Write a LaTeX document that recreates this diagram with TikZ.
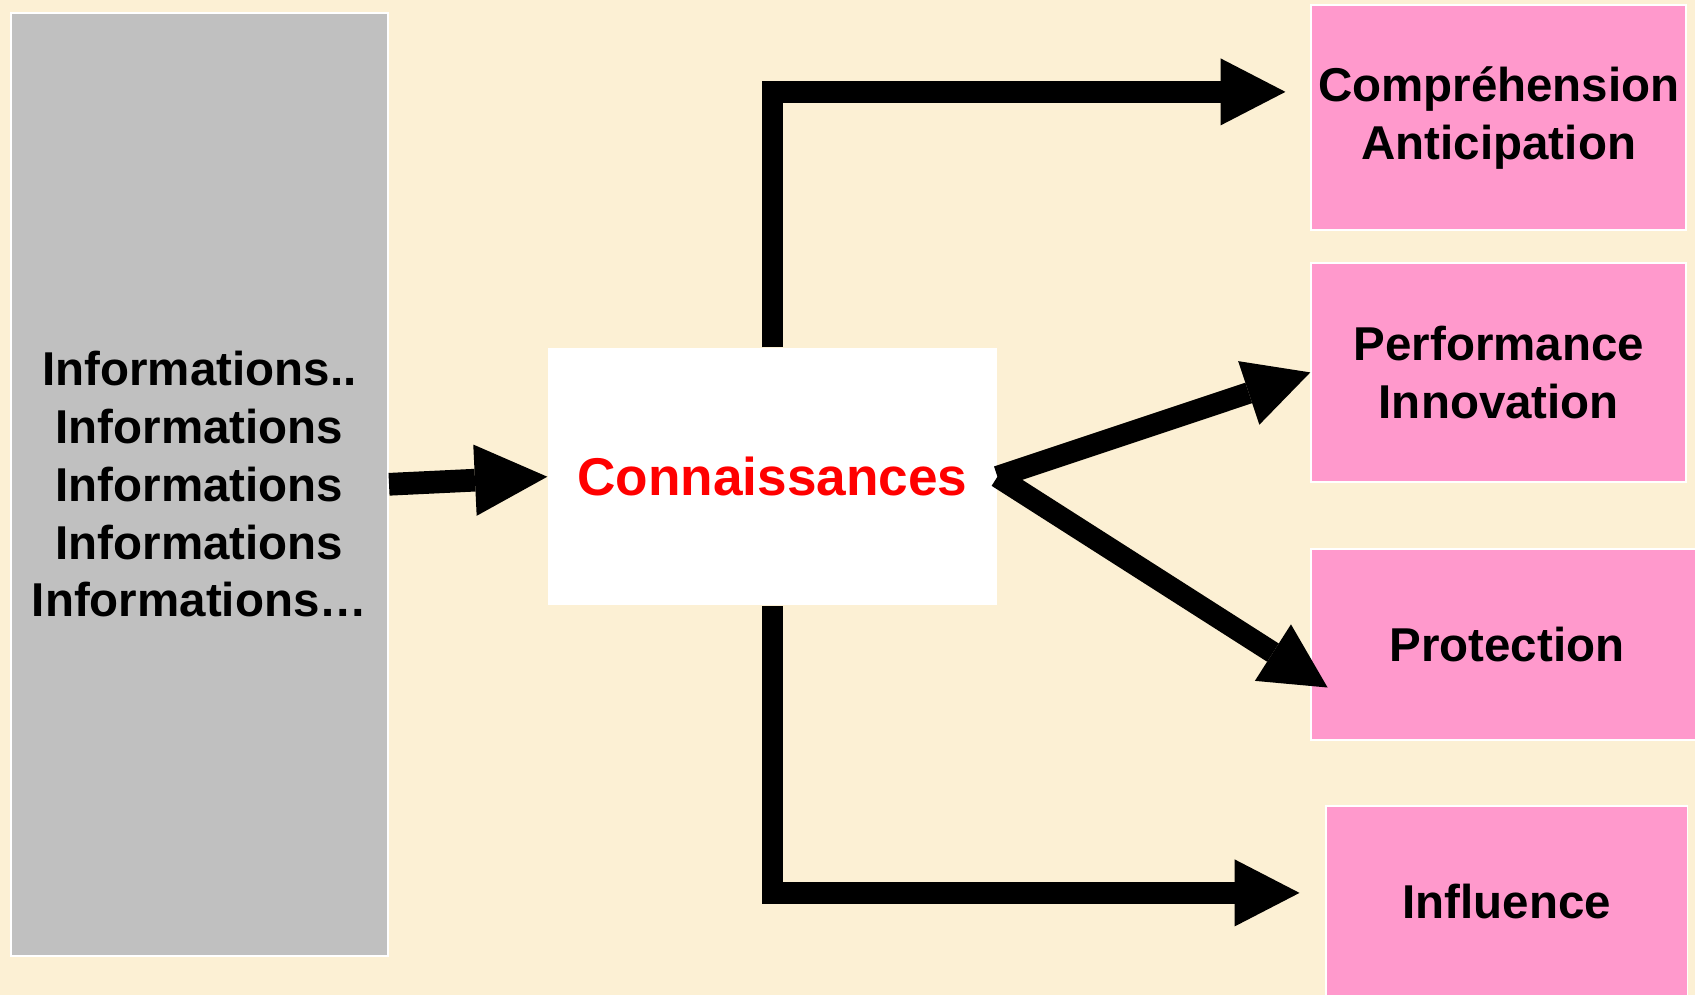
\documentclass[tikz,border=0pt]{standalone}
\usepackage{fontspec}
\setmainfont{Liberation Sans}
\usetikzlibrary{arrows.meta,positioning}
\definecolor{parchment}{RGB}{252,240,212}
\definecolor{boxgray}{RGB}{192,192,192}
\definecolor{boxpink}{RGB}{255,153,204}
\tikzstyle{pinkbox} = [draw=white, line width=0.5pt, fill=boxpink, inner sep=1pt, align=center, font=\bfseries\fontsize{12.5}{15.2}\selectfont]
\tikzstyle{bigarrow} = [line width=0.2cm, -{Triangle[length=0.6cm,width=0.62cm,line width=0pt]}]

\begin{document}
\begin{tikzpicture}
	\fill[parchment] (0,0) rectangle (15.68,9.20); % background
	\useasboundingbox (0,0) rectangle (15.68,9.20);
	\node[draw=white,line width=0.5pt,fill=boxgray,minimum width=3.49cm,minimum height=8.72cm,align=center,font=\bfseries\fontsize{12.5}{15.2}\selectfont] (infoBox) at (1.845,4.72) {Informations..\\Informations\\Informations\\Informations\\Informations…};
	\node[fill=white,minimum width=4.15cm,minimum height=2.38cm,text=red,font=\bfseries\fontsize{14}{16}\selectfont] (knowBox) at (7.145,4.79) {Connaissances};
	\node[pinkbox,minimum width=3.47cm,minimum height=2.08cm] (compBox) at (13.865,8.11) {Compréhension\\Anticipation};
	\node[pinkbox,minimum width=3.47cm,minimum height=2.03cm] (perfBox) at (13.865,5.755) {Performance\\Innovation};
	\node[pinkbox,minimum width=3.62cm,minimum height=1.765cm] (protBox) at (13.94,3.24) {Protection};
	\node[pinkbox,minimum width=3.34cm,minimum height=1.76cm] (inflBox) at (13.94,0.86) {Influence};
	\draw[bigarrow,line width=0.21cm,-{Triangle[length=0.67cm,width=0.66cm,line width=0pt]}] (infoBox.east) -- (knowBox.west);
	\draw[bigarrow] (knowBox.north) |- ([shift={(-0.23,0.24)}]compBox.west);
	\draw[bigarrow] (knowBox.south) |- ([shift={(-0.24,0.08)}]inflBox.west);
	\draw[bigarrow] (knowBox.east) -- (perfBox.west);
	\draw[bigarrow] (knowBox.east) -- ([shift={(0.16,-0.40)}]protBox.west);
\end{tikzpicture}
\end{document}
